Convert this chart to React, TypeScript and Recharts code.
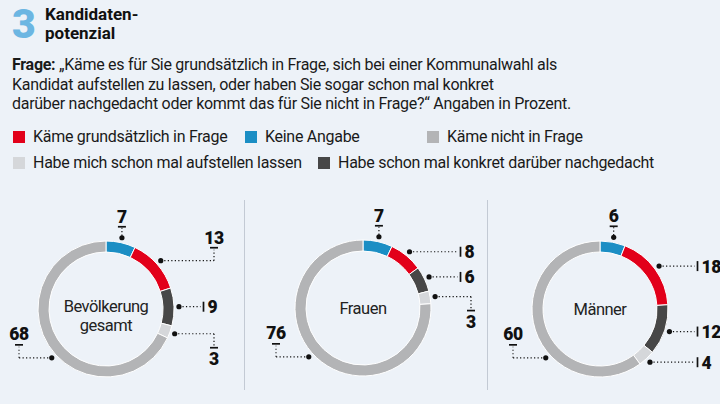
import React from "react";
import { PieChart, Pie, Cell } from "recharts";

// ---------- data ----------
const categories = [
  "Keine Angabe",
  "Käme grundsätzlich in Frage",
  "Habe schon mal konkret darüber nachgedacht",
  "Habe mich schon mal aufstellen lassen",
  "Käme nicht in Frage",
];
const groupNames = ["Bevölkerung gesamt", "Frauen", "Männer"];
const gesamtValues = [7, 13, 9, 3, 68];
const frauenValues = [7, 8, 6, 3, 76];
const maennerValues = [6, 18, 12, 4, 60];
const legendRow1 = [1, 0, 4];
const legendRow2 = [3, 2];

// ---------- styles ----------
const COLORS = ["#1b8ec4", "#e2001a", "#474747", "#d5d7da", "#b3b4b6"];
const BG = "#edf2f8";
const FONT = "Roboto, 'Noto Sans', sans-serif";
const NUM_FONT = "Roboto, sans-serif";
const LS = "-0.28px";

const pieCenters = [
  { cx: 101, cy: 304 },
  { cx: 358, cy: 303 },
  { cx: 595, cy: 304 },
];
const labelStyles = [
  ["top", "rightUp", "right", "rightDown", "left"],
  ["top", "right", "right", "rightDown", "left"],
  ["top", "right", "right", "right", "left"],
];
const legendRow1X = [13, 245, 427];
const legendRow2X = [13, 318];

const series = [gesamtValues, frauenValues, maennerValues].map((vals) =>
  vals.map((v, i) => ({ name: categories[i], value: v }))
);

const DOT = "1.2 2.3";

function makeLabel(styles: string[], groupName: string) {
  return (props: any) => {
    const { cx, cy, midAngle, outerRadius, index, value } = props;
    const style = styles[index];
    const cw = style === "left" ? 228 : 90 - midAngle;
    const rad = (cw * Math.PI) / 180;
    const r = outerRadius + 5;
    const x = cx + r * Math.sin(rad);
    const y = cy - r * Math.cos(rad);
    const txt = {
      fontFamily: NUM_FONT,
      fontWeight: 900,
      fontSize: 17.5,
      fill: "#111",
      letterSpacing: "-0.3px",
    } as any;
    const dotted = { stroke: "#111", strokeWidth: 1.2, strokeDasharray: DOT };
    const solid = { stroke: "#111", strokeWidth: 1.7 };
    let parts: any = null;
    if (style === "top") {
      parts = (
        <>
          <line x1={x} y1={y - 2} x2={x} y2={y - 10} {...dotted} />
          <line x1={x - 4} y1={y - 11} x2={x + 4} y2={y - 11} {...solid} />
          <text x={x} y={y - 15} textAnchor="middle" {...txt}>{value}</text>
        </>
      );
    } else if (style === "right") {
      const X = cx + 97.5;
      parts = (
        <>
          <line x1={x} y1={y} x2={X - 3} y2={y} {...dotted} />
          <line x1={X} y1={y - 5} x2={X} y2={y + 5} {...solid} />
          <text x={X + 4} y={y + 6.5} textAnchor="start" {...txt}>{value}</text>
        </>
      );
    } else if (style === "rightUp") {
      const X = cx + 108;
      parts = (
        <>
          <line x1={x} y1={y} x2={X} y2={y} {...dotted} />
          <line x1={X} y1={y} x2={X} y2={y - 11} {...dotted} />
          <line x1={X - 4} y1={y - 13} x2={X + 4} y2={y - 13} {...solid} />
          <text x={X} y={y - 17} textAnchor="middle" {...txt}>{value}</text>
        </>
      );
    } else if (style === "rightDown") {
      const X = cx + 108;
      parts = (
        <>
          <line x1={x} y1={y} x2={X} y2={y} {...dotted} />
          <line x1={X} y1={y} x2={X} y2={y + 12} {...dotted} />
          <line x1={X - 4} y1={y + 14} x2={X + 4} y2={y + 14} {...solid} />
          <text x={X} y={y + 31} textAnchor="middle" {...txt}>{value}</text>
        </>
      );
    } else {
      const X = cx - 87;
      parts = (
        <>
          <line x1={x} y1={y} x2={X} y2={y} {...dotted} />
          <line x1={X} y1={y} x2={X} y2={y - 11} {...dotted} />
          <line x1={X - 4} y1={y - 13} x2={X + 4} y2={y - 13} {...solid} />
          <text x={X} y={y - 18} textAnchor="middle" {...txt}>{value}</text>
        </>
      );
    }
    let center: any = null;
    if (index === 0) {
      const words = groupName.split(" ");
      const cstyle = {
        fontFamily: FONT,
        fontSize: 16.5,
        fill: "#222",
        letterSpacing: "-0.5px",
      } as any;
      center =
        words.length > 1 ? (
          <text textAnchor="middle" {...cstyle}>
            <tspan x={cx} y={cy + 3}>{words[0]}</tspan>
            <tspan x={cx} y={cy + 22}>{words[1]}</tspan>
          </text>
        ) : (
          <text x={cx} y={cy + 6} textAnchor="middle" {...cstyle}>
            {groupName}
          </text>
        );
    }
    return (
      <g key={`lbl-${index}`}>
        {center}
        <circle cx={x} cy={y} r={2.6} fill="#111" />
        {parts}
      </g>
    );
  };
}

function LegendItem({ idx, x, y }: { idx: number; x: number; y: number }) {
  return (
    <div
      style={{
        position: "absolute",
        left: x,
        top: y,
        display: "flex",
        alignItems: "center",
        whiteSpace: "nowrap",
      }}
    >
      <span
        style={{
          display: "inline-block",
          width: 12,
          height: 12,
          background: COLORS[idx],
          marginRight: 8,
        }}
      />
      <span style={{ fontSize: 16, color: "#1a1a1a", letterSpacing: LS }}>
        {categories[idx]}
      </span>
    </div>
  );
}

export default function App() {
  return (
    <div
      style={{
        position: "fixed",
        left: 0,
        top: 0,
        width: 720,
        height: 404,
        background: BG,
        fontFamily: FONT,
        overflow: "hidden",
      }}
    >
      {/* Title */}
      <div
        style={{
          position: "absolute",
          left: 12,
          top: 0,
          fontSize: 41,
          fontWeight: 900,
          color: "#6cb6e2",
          lineHeight: "normal",
        }}
      >
        3
      </div>
      <div
        style={{
          position: "absolute",
          left: 45,
          top: 5,
          fontSize: 17,
          fontWeight: 700,
          color: "#111",
          lineHeight: "19px",
        }}
      >
        Kandidaten-
        <br />
        potenzial
      </div>
      {/* Question */}
      <div
        style={{
          position: "absolute",
          left: 12,
          top: 55,
          fontSize: 16,
          color: "#1a1a1a",
          lineHeight: "19.5px",
          whiteSpace: "nowrap",
          letterSpacing: LS,
        }}
      >
        <b>Frage:</b> „Käme es für Sie grundsätzlich in Frage, sich bei einer Kommunalwahl als
        <br />
        Kandidat aufstellen zu lassen, oder haben Sie sogar schon mal konkret
        <br />
        darüber nachgedacht oder kommt das für Sie nicht in Frage?“ Angaben in Prozent.
      </div>
      {/* Legend */}
      {legendRow1.map((idx, i) => (
        <LegendItem key={`l1-${i}`} idx={idx} x={legendRow1X[i]} y={127} />
      ))}
      {legendRow2.map((idx, i) => (
        <LegendItem key={`l2-${i}`} idx={idx} x={legendRow2X[i]} y={153} />
      ))}
      {/* Separators */}
      <div style={{ position: "absolute", left: 244, top: 200, width: 1, height: 190, background: "#c3cad4" }} />
      <div style={{ position: "absolute", left: 487, top: 200, width: 1, height: 190, background: "#c3cad4" }} />
      {/* Chart */}
      <div style={{ position: "absolute", left: 0, top: 0 }}>
        <PieChart width={720} height={404}>
          {series.map((data, g) => (
            <Pie
              key={groupNames[g]}
              data={data}
              dataKey="value"
              nameKey="name"
              cx={pieCenters[g].cx}
              cy={pieCenters[g].cy}
              innerRadius={57}
              outerRadius={68}
              startAngle={90}
              endAngle={-270}
              stroke="#ffffff"
              strokeWidth={1}
              isAnimationActive={false}
              labelLine={false}
              label={makeLabel(labelStyles[g], groupNames[g])}
            >
              {data.map((_, i) => (
                <Cell key={`c-${g}-${i}`} fill={COLORS[i]} />
              ))}
            </Pie>
          ))}
        </PieChart>
      </div>
    </div>
  );
}
